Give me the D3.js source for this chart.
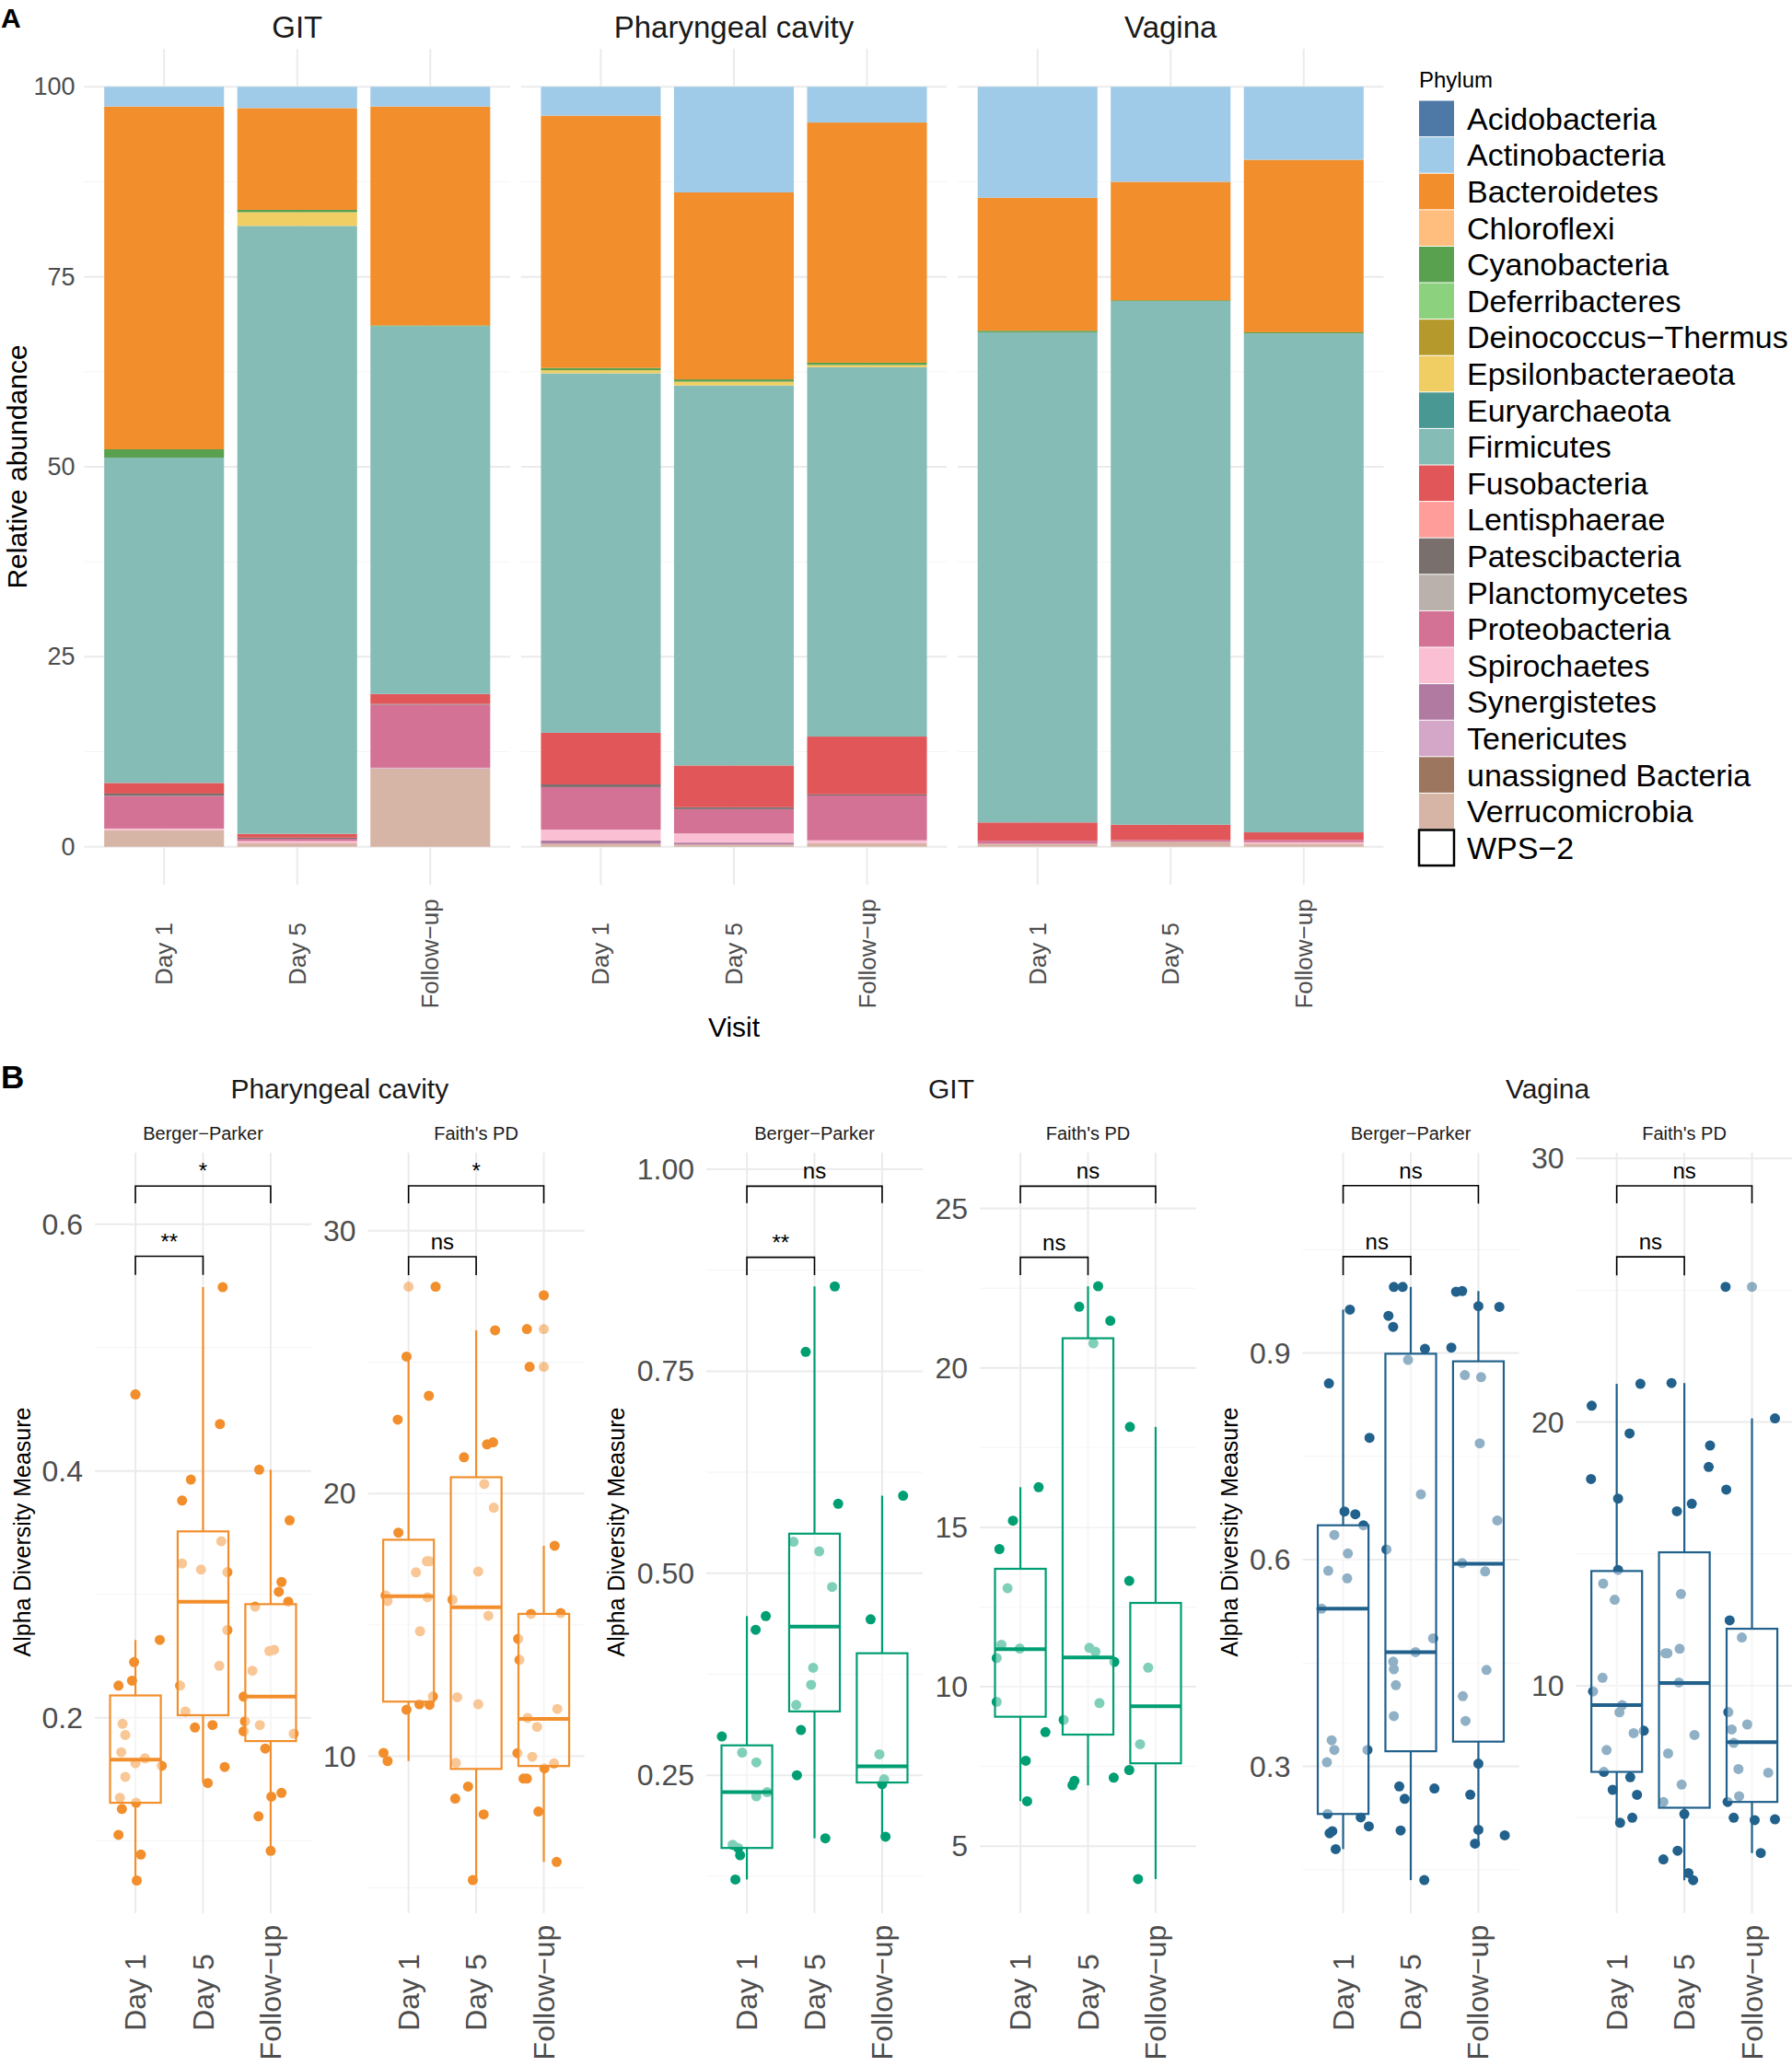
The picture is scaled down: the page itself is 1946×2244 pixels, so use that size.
<!DOCTYPE html>
<html>
<head>
<meta charset="utf-8">
<script src="https://cdn.jsdelivr.net/npm/d3@7"></script>
<style>
  body { margin: 0; background: #fff; }
  text { font-family: "Liberation Sans", Arial, sans-serif; }
</style>
</head>
<body>
<svg id="chart" width="1946" height="2244"></svg>
<script>
// ---------- panel A data ----------
var visits = ["Day 1", "Day 5", "Follow−up"];
var sitesA = ["GIT", "Pharyngeal cavity", "Vagina"];
var phyla = ["Acidobacteria", "Actinobacteria", "Bacteroidetes", "Chloroflexi", "Cyanobacteria",
  "Deferribacteres", "Deinococcus−Thermus", "Epsilonbacteraeota", "Euryarchaeota", "Firmicutes",
  "Fusobacteria", "Lentisphaerae", "Patescibacteria", "Planctomycetes", "Proteobacteria",
  "Spirochaetes", "Synergistetes", "Tenericutes", "unassigned Bacteria", "Verrucomicrobia", "WPS−2"];
var phylumColors = ["#4e79a7", "#a0cbe8", "#f28e2b", "#ffbe7d", "#59a14f", "#8cd17d", "#b6992d",
  "#f1ce63", "#499894", "#86bcb6", "#e15759", "#ff9d9a", "#79706e", "#bab0ac", "#d37295",
  "#fabfd2", "#b07aa1", "#d4a6c8", "#9d7660", "#d7b5a6", "#ffffff"];

// relative abundance (%), same order as phyla
var gitDay1    = [0, 2.6, 45.1, 0, 1.1, 0, 0, 0, 0, 42.8, 1.4, 0, 0.3, 0, 4.3, 0.2, 0, 0, 0, 2.2, 0];
var gitDay5    = [0, 2.8, 13.4, 0, 0.3, 0, 0, 1.8, 0, 80.0, 0.5, 0, 0.15, 0, 0.3, 0.3, 0, 0, 0, 0.45, 0];
var gitFollow  = [0, 2.6, 28.8, 0, 0.1, 0, 0, 0, 0, 48.4, 1.3, 0, 0.1, 0, 8.3, 0, 0, 0.1, 0, 10.3, 0];
var pharDay1   = [0, 3.8, 33.2, 0, 0.3, 0, 0, 0.4, 0, 47.3, 6.8, 0, 0.35, 0, 5.6, 1.4, 0.45, 0, 0, 0.4, 0];
var pharDay5   = [0, 13.9, 24.6, 0, 0.3, 0, 0, 0.5, 0, 50.0, 5.5, 0, 0.25, 0, 3.2, 1.2, 0.25, 0, 0, 0.3, 0];
var pharFollow = [0, 4.7, 31.6, 0, 0.3, 0, 0, 0.3, 0, 48.6, 7.6, 0, 0.15, 0, 5.9, 0.4, 0, 0, 0, 0.45, 0];
var vagDay1    = [0, 14.6, 17.5, 0, 0.2, 0, 0, 0, 0, 64.5, 2.4, 0, 0, 0, 0.4, 0, 0, 0, 0, 0.4, 0];
var vagDay5    = [0, 12.5, 15.6, 0, 0.1, 0, 0, 0, 0, 68.9, 2.0, 0, 0, 0, 0.25, 0, 0, 0, 0, 0.65, 0];
var vagFollow  = [0, 9.6, 22.7, 0, 0.15, 0, 0, 0, 0, 65.65, 1.0, 0, 0, 0, 0.3, 0.2, 0, 0, 0, 0.4, 0];
var yTicksA = [0, 25, 50, 75, 100];
var yMinorA = [12.5, 37.5, 62.5, 87.5];

// ---------- panel B data: [value, jitter offset in category steps] ----------
var groupsB = ["Pharyngeal cavity", "GIT", "Vagina"];
var metrics = ["Berger−Parker", "Faith's PD"];
var groupColors = ["#F28E2B", "#009E73", "#21618C"];

var pharBerger = [
  [[0.462,0],[0.263,0.36],[0.245,-0.02],[0.230,-0.05],[0.226,-0.25],[0.195,-0.19],[0.186,-0.15],[0.172,-0.21],[0.167,0.14],[0.163,0],[0.161,0.39],[0.152,-0.15],[0.135,-0.23],[0.131,0.01],[0.126,-0.2],[0.105,-0.25],[0.089,0.08],[0.068,0.02]],
  [[0.549,0.29],[0.438,0.25],[0.393,-0.18],[0.376,-0.31],[0.343,0.27],[0.325,-0.31],[0.320,-0.03],[0.318,0.36],[0.271,0.36],[0.242,0.24],[0.226,-0.34],[0.205,-0.26],[0.192,-0.12],[0.194,0.14],[0.160,0.32],[0.147,0.07]],
  [[0.401,-0.17],[0.360,0.28],[0.310,0.16],[0.302,0.12],[0.294,0.26],[0.290,-0.23],[0.255,0.05],[0.254,-0.02],[0.238,-0.27],[0.217,-0.4],[0.197,-0.38],[0.194,-0.16],[0.189,-0.4],[0.187,0.34],[0.175,-0.08],[0.139,0.16],[0.136,0.01],[0.120,-0.18],[0.092,0]]
];
var pharBergerBox = [[0.068,0.131,0.166,0.218,0.263],[0.147,0.202,0.294,0.351,0.549],[0.092,0.181,0.217,0.292,0.401]];

var pharFaith = [
  [[27.87,0.40],[25.21,-0.03],[23.72,0.30],[22.81,-0.16],[18.51,-0.15],[17.42,0.27],[17.42,0.31],[17.0,0.11],[16.12,-0.34],[15.91,-0.31],[16.05,0.28],[14.76,0.17],[12.28,0.36],[11.98,0.16],[11.96,0.31],[11.77,-0.03],[10.13,-0.37],[9.82,-0.31]],
  [[26.21,0.28],[21.87,0.16],[21.95,0.25],[21.38,-0.18],[20.36,0.12],[19.46,0.26],[17.03,0.03],[15.96,-0.35],[15.35,0.18],[12.25,-0.28],[11.98,0.03],[9.75,-0.3],[8.85,-0.12],[8.39,-0.31],[7.79,0.11],[5.29,-0.05]],
  [[27.54,0],[26.26,-0.25],[24.82,-0.21],[18.01,0.16],[15.45,0.25],[15.42,-0.19],[14.47,-0.38],[13.67,-0.36],[11.8,0.2],[11.46,-0.24],[11.12,-0.1],[10.12,-0.39],[9.98,-0.17],[9.73,0.15],[9.54,0.01],[9.15,-0.3],[9.15,-0.25],[7.9,-0.08],[5.98,0.19]]
];
var pharFaithBox = [[9.82,12.08,16.09,18.24,25.21],[5.29,9.52,15.67,20.62,26.21],[5.98,9.63,11.42,15.42,18.01]];

var gitBerger = [
  [[0.447,0.28],[0.430,0.13],[0.298,-0.37],[0.278,-0.07],[0.266,0.14],[0.229,0.3],[0.224,0.14],[0.164,-0.21],[0.160,-0.13],[0.151,-0.1],[0.121,-0.17]],
  [[0.855,0.3],[0.774,-0.13],[0.586,0.35],[0.539,-0.31],[0.527,0.07],[0.483,0.26],[0.383,-0.02],[0.362,-0.05],[0.337,-0.27],[0.306,-0.2],[0.250,-0.26],[0.172,0.16]],
  [[0.596,0.31],[0.443,-0.17],[0.276,-0.04],[0.245,0.03],[0.239,0],[0.174,0.05]]
];
var gitBergerBox = [[0.121,0.160,0.229,0.287,0.447],[0.172,0.329,0.434,0.549,0.855],[0.174,0.241,0.261,0.401,0.596]];

var gitFaith = [
  [[16.26,0.27],[15.21,-0.11],[14.32,-0.31],[13.09,-0.19],[11.32,-0.28],[11.2,-0.01],[10.9,-0.35],[9.53,-0.35],[8.58,0.37],[7.68,0.08],[6.41,0.1]],
  [[22.56,0.15],[21.92,-0.13],[21.48,0.33],[20.77,0.08],[11.22,0.02],[11.1,0.11],[10.78,0.39],[9.49,0.17],[8.96,-0.36],[7.05,-0.2],[6.91,-0.23],[7.15,0.38]],
  [[18.15,-0.38],[13.32,-0.39],[10.6,-0.11],[8.2,-0.23],[7.39,-0.39],[3.97,-0.26]]
];
var gitFaithBox = [[6.41,9.06,11.18,13.70,16.26],[6.91,8.5,10.92,20.93,22.56],[3.97,7.60,9.39,12.63,18.15]];

var vagBerger = [
  [[0.963,0.1],[0.856,-0.21],[0.777,0.39],[0.670,0.02],[0.666,0.18],[0.650,0.3],[0.636,-0.13],[0.609,0.07],[0.584,-0.22],[0.573,0.06],[0.529,-0.32],[0.338,-0.17],[0.324,-0.13],[0.324,0.36],[0.306,-0.24],[0.231,-0.23],[0.226,0.26],[0.213,0.38],[0.206,-0.16],[0.203,-0.2],[0.180,-0.11]],
  [[0.996,-0.25],[0.996,-0.12],[0.954,-0.33],[0.938,-0.26],[0.906,0.21],[0.890,-0.04],[0.695,0.15],[0.615,-0.36],[0.486,0.33],[0.466,0.07],[0.452,-0.26],[0.441,-0.25],[0.418,-0.22],[0.373,-0.25],[0.271,-0.17],[0.268,0.35],[0.253,-0.09],[0.207,-0.15],[0.135,0.2]],
  [[0.989,-0.33],[0.990,-0.24],[0.968,0],[0.967,0.31],[0.908,-0.4],[0.868,-0.2],[0.865,0.04],[0.769,0.02],[0.657,0.28],[0.595,-0.24],[0.583,0.1],[0.440,0.12],[0.402,-0.23],[0.366,-0.19],[0.304,0],[0.259,-0.12],[0.208,0],[0.200,0.39],[0.188,-0.05]]
];
var vagBergerBox = [[0.180,0.231,0.529,0.650,0.963],[0.135,0.322,0.466,0.899,0.996],[0.188,0.336,0.594,0.888,0.990]];

var vagFaith = [
  [[21.45,0.35],[20.62,-0.37],[19.57,0.19],[17.84,-0.38],[17.1,0.02],[14.39,0.02],[13.87,-0.2],[13.26,-0.03],[10.30,-0.21],[9.78,-0.35],[9.26,0.08],[8.99,0.04],[8.2,0.25],[8.29,0.4],[7.56,-0.15],[6.73,-0.19],[6.53,0.2],[6.05,-0.06],[5.86,0.3],[4.99,0.23],[4.80,0.05]],
  [[21.48,-0.19],[19.11,0.38],[18.3,0.36],[16.9,0.11],[16.62,-0.11],[13.48,-0.05],[11.23,-0.28],[11.23,-0.25],[11.4,-0.07],[10.12,-0.08],[8.13,0.15],[7.43,-0.24],[6.25,-0.04],[5.59,-0.31],[5.13,0],[3.41,-0.31],[3.74,-0.1],[2.89,0.06],[2.62,0.13]],
  [[25.13,-0.39],[20.14,0.34],[17.44,-0.38],[12.48,-0.33],[11.83,-0.15],[9.0,-0.35],[8.53,-0.07],[8.34,-0.3],[7.83,-0.27],[6.84,-0.2],[6.7,0.24],[5.81,-0.19],[5.59,-0.36],[4.99,-0.27],[4.9,0.04],[4.93,0.34],[3.65,0.13]]
];
var vagFaithBox = [[4.80,6.73,9.26,14.35,21.45],[2.62,5.37,10.1,15.06,21.48],[3.65,5.59,7.86,12.16,20.14]];

// y limits, ticks, significance brackets: [top y, tick end y, label] for Day1-FU then Day1-Day5
var yDomainsB = [[0.0415,0.658],[4.03,32.97],[0.0793,1.0205],[2.9,26.75],[0.087,1.1908],[1.37,30.22]];
var yMajorB = [[0.2,0.4,0.6],[10,20,30],[0.25,0.5,0.75,1.0],[5,10,15,20,25],[0.3,0.6,0.9],[10,20,30]];
var yMinorB = [[0.1,0.3,0.5],[5,15,25],[0.125,0.375,0.625,0.875],[7.5,12.5,17.5,22.5],[0.15,0.45,0.75,1.05],[5,15,25]];
var tickFmtB = [".1f", "d", ".2f", "d", ".1f", "d"];
var sigB = [
  [[0.631,0.617,"*"],[0.574,0.559,"**"]],
  [[31.71,31.04,"*"],[29.01,28.31,"ns"]],
  [[0.979,0.958,"ns"],[0.891,0.869,"**"]],
  [[25.70,25.16,"ns"],[23.47,22.91,"ns"]],
  [[1.143,1.117,"ns"],[1.04,1.013,"ns"]],
  [[28.96,28.3,"ns"],[26.27,25.57,"ns"]]
];

var svg = d3.select("#chart");
var gridMajor = "#ebebeb", gridMinor = "#f4f4f4", tickGrey = "#4d4d4d";

// ================= Panel A =================
var barsA = [[gitDay1, gitDay5, gitFollow], [pharDay1, pharDay5, pharFollow], [vagDay1, vagDay5, vagFollow]];
var panelX0 = [91.5, 565.75, 1040], panelW = 462.5;
var yA = d3.scaleLinear().domain([-5, 105]).range([961, 53]);
var stackKeys = phyla.slice().reverse();   // first level on top
var colorA = d3.scaleOrdinal().domain(phyla).range(phylumColors);

svg.append("text").attr("x", 1).attr("y", 30).attr("font-size", 30).attr("font-weight", "bold").text("A");

sitesA.forEach(function (site, s) {
  var x0 = panelX0[s];
  var xA = d3.scaleBand().domain(visits).range([x0, x0 + panelW]).paddingInner(0.1).paddingOuter(0.15);
  var g = svg.append("g");

  yMinorA.forEach(function (t) {
    g.append("line").attr("x1", x0).attr("x2", x0 + panelW).attr("y1", yA(t)).attr("y2", yA(t))
      .attr("stroke", gridMinor).attr("stroke-width", 1);
  });
  yTicksA.forEach(function (t) {
    g.append("line").attr("x1", x0).attr("x2", x0 + panelW).attr("y1", yA(t)).attr("y2", yA(t))
      .attr("stroke", gridMajor).attr("stroke-width", 2);
  });
  visits.forEach(function (v) {
    var cx = xA(v) + xA.bandwidth() / 2;
    g.append("line").attr("x1", cx).attr("x2", cx).attr("y1", yA(105)).attr("y2", yA(-5))
      .attr("stroke", gridMajor).attr("stroke-width", 2);
  });

  var rows = barsA[s].map(function (vals, i) {
    var r = { visit: visits[i] };
    phyla.forEach(function (p, j) { r[p] = vals[j]; });
    return r;
  });
  var series = d3.stack().keys(stackKeys)(rows);
  series.forEach(function (ser) {
    g.selectAll(null).data(ser.filter(function (d) { return d[1] - d[0] > 0; }))
      .enter().append("rect")
      .attr("x", function (d) { return xA(d.data.visit); })
      .attr("width", xA.bandwidth())
      .attr("y", function (d) { return yA(d[1]); })
      .attr("height", function (d) { return yA(d[0]) - yA(d[1]); })
      .attr("fill", colorA(ser.key));
  });

  // strip
  svg.append("text").attr("x", x0 + panelW / 2).attr("y", 29).attr("text-anchor", "middle")
    .attr("dominant-baseline", "central").attr("font-size", 33).attr("fill", "#1a1a1a").text(site);

  // x tick labels
  visits.forEach(function (v) {
    var cx = xA(v) + xA.bandwidth() / 2;
    svg.append("text").attr("transform", "translate(" + cx + ",1036) rotate(-90)")
      .attr("text-anchor", "middle").attr("dominant-baseline", "central")
      .attr("font-size", 26).attr("fill", tickGrey).text(v);
  });

  if (s === 0) {
    yTicksA.forEach(function (t) {
      svg.append("text").attr("x", x0 - 10).attr("y", yA(t)).attr("text-anchor", "end")
        .attr("dominant-baseline", "central").attr("font-size", 27).attr("fill", tickGrey).text(t);
    });
  }
});

svg.append("text").attr("transform", "translate(18,507) rotate(-90)").attr("text-anchor", "middle")
  .attr("dominant-baseline", "central").attr("font-size", 30).text("Relative abundance");
svg.append("text").attr("x", 797).attr("y", 1115).attr("text-anchor", "middle")
  .attr("dominant-baseline", "central").attr("font-size", 30).text("Visit");

// legend
svg.append("text").attr("x", 1541).attr("y", 86).attr("dominant-baseline", "central")
  .attr("font-size", 24).text("Phylum");
var keyH = 39.6;
phyla.forEach(function (p, i) {
  var ky = 109 + i * keyH;
  svg.append("rect").attr("x", 1541).attr("y", ky + 0.5).attr("width", 38).attr("height", keyH - 1)
    .attr("fill", colorA(p))
    .attr("stroke", p === "WPS−2" ? "#000" : "none").attr("stroke-width", 2.5);
  svg.append("text").attr("x", 1593).attr("y", ky + keyH / 2).attr("dominant-baseline", "central")
    .attr("font-size", 34).text(p);
});

// ================= Panel B =================
svg.append("text").attr("x", 1).attr("y", 1182).attr("font-size", 35).attr("font-weight", "bold").text("B");

var pointsB = [pharBerger, pharFaith, gitBerger, gitFaith, vagBerger, vagFaith];
var boxesB = [pharBergerBox, pharFaithBox, gitBergerBox, gitFaithBox, vagBergerBox, vagFaithBox];
var panelX0B = [103, 399.6, 767, 1064, 1414.5, 1711.6], panelWB = 235;
var yTopB = 1252, yBotB = 2078;
var groupTitleX = [368.8, 1033, 1680.5];
var yTitleX = [24, 669, 1335];

groupsB.forEach(function (grp, gi) {
  svg.append("text").attr("x", groupTitleX[gi]).attr("y", 1182).attr("text-anchor", "middle")
    .attr("dominant-baseline", "central").attr("font-size", 30).attr("fill", "#1a1a1a").text(grp);
  svg.append("text").attr("transform", "translate(" + yTitleX[gi] + ",1664) rotate(-90)")
    .attr("text-anchor", "middle").attr("dominant-baseline", "central").attr("font-size", 25)
    .text("Alpha Diversity Measure");
});

pointsB.forEach(function (groups, k) {
  var gi = Math.floor(k / 2);
  var col = groupColors[gi];
  var x0 = panelX0B[k];
  var x = d3.scaleBand().domain(visits).range([x0, x0 + panelWB]).paddingInner(0).paddingOuter(0.1);
  var step = x.step();
  var cxOf = function (v) { return x(v) + x.bandwidth() / 2; };
  var y = d3.scaleLinear().domain(yDomainsB[k]).range([yBotB, yTopB]);
  var g = svg.append("g");

  yMinorB[k].forEach(function (t) {
    g.append("line").attr("x1", x0).attr("x2", x0 + panelWB).attr("y1", y(t)).attr("y2", y(t))
      .attr("stroke", gridMinor).attr("stroke-width", 1);
  });
  yMajorB[k].forEach(function (t) {
    g.append("line").attr("x1", x0).attr("x2", x0 + panelWB).attr("y1", y(t)).attr("y2", y(t))
      .attr("stroke", gridMajor).attr("stroke-width", 2);
    svg.append("text").attr("x", x0 - 13).attr("y", y(t)).attr("text-anchor", "end")
      .attr("dominant-baseline", "central").attr("font-size", 32).attr("fill", tickGrey)
      .text(d3.format(tickFmtB[k])(t));
  });
  visits.forEach(function (v) {
    g.append("line").attr("x1", cxOf(v)).attr("x2", cxOf(v)).attr("y1", yTopB).attr("y2", yBotB)
      .attr("stroke", gridMajor).attr("stroke-width", 2);
  });

  // jittered points
  groups.forEach(function (pts, vi) {
    var cx = cxOf(visits[vi]);
    g.selectAll(null).data(pts).enter().append("circle")
      .attr("cx", function (d) { return cx + d[1] * step; })
      .attr("cy", function (d) { return y(d[0]); })
      .attr("r", 5.5).attr("fill", col);
  });

  // boxplots: [lower whisker, q1, median, q3, upper whisker]
  var tol = (yDomainsB[k][1] - yDomainsB[k][0]) * 0.004;
  boxesB[k].forEach(function (b, vi) {
    var cx = cxOf(visits[vi]);
    var hw = step * 0.375;
    var outl = groups[vi].filter(function (d) { return d[0] > b[4] + tol || d[0] < b[0] - tol; });
    g.selectAll(null).data(outl).enter().append("circle")
      .attr("cx", cx).attr("cy", function (d) { return y(d[0]); })
      .attr("r", 5.5).attr("fill", col).attr("fill-opacity", 0.5);
    g.append("line").attr("x1", cx).attr("x2", cx).attr("y1", y(b[3])).attr("y2", y(b[4]))
      .attr("stroke", col).attr("stroke-width", 2.2);
    g.append("line").attr("x1", cx).attr("x2", cx).attr("y1", y(b[1])).attr("y2", y(b[0]))
      .attr("stroke", col).attr("stroke-width", 2.2);
    g.append("rect").attr("x", cx - hw).attr("width", hw * 2)
      .attr("y", y(b[3])).attr("height", y(b[1]) - y(b[3]))
      .attr("fill", "#fff").attr("fill-opacity", 0.5).attr("stroke", col).attr("stroke-width", 2.2);
    g.append("line").attr("x1", cx - hw).attr("x2", cx + hw).attr("y1", y(b[2])).attr("y2", y(b[2]))
      .attr("stroke", col).attr("stroke-width", 4);
  });

  // significance brackets
  var pairs = [[0, 2], [0, 1]];
  sigB[k].forEach(function (s, si) {
    var xa = cxOf(visits[pairs[si][0]]), xb = cxOf(visits[pairs[si][1]]);
    g.append("path")
      .attr("d", "M" + xa + "," + y(s[1]) + "V" + y(s[0]) + "H" + xb + "V" + y(s[1]))
      .attr("fill", "none").attr("stroke", "#000").attr("stroke-width", 1.6);
    g.append("text").attr("x", (xa + xb) / 2).attr("y", y(s[0]) - 8).attr("text-anchor", "middle")
      .attr("font-size", 24).text(s[2]);
  });

  // strip label
  svg.append("text").attr("x", x0 + panelWB / 2).attr("y", 1231).attr("text-anchor", "middle")
    .attr("dominant-baseline", "central").attr("font-size", 20).attr("fill", "#1a1a1a").text(metrics[k % 2]);

  // x tick labels
  visits.forEach(function (v) {
    svg.append("text").attr("transform", "translate(" + cxOf(v) + ",2164) rotate(-90)")
      .attr("text-anchor", "middle").attr("dominant-baseline", "central")
      .attr("font-size", 32).attr("fill", tickGrey).text(v);
  });
});
</script>
</body>
</html>
